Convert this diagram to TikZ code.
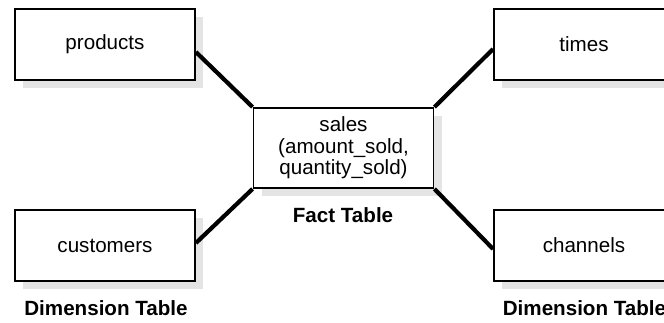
\documentclass[tikz,border=0pt]{standalone}
\usepackage{fontspec}
\setmainfont{Liberation Sans}
\usetikzlibrary{shadows}
\definecolor{shadowgray}{RGB}{228,228,228}
\tikzset{
  tbl/.style={draw=black, line width=1.8pt, fill=white, minimum width=180pt,
    minimum height=71pt, inner sep=0pt, align=center,
    font=\fontsize{20.6}{21.5}\selectfont,
    drop shadow={shadow xshift=8pt, shadow yshift=-8pt, fill=shadowgray, opacity=1, draw=none}},
  fact/.style={tbl, minimum height=80pt},
  conn/.style={line width=4.2pt, draw=black},
  caption/.style={font=\fontsize{20.6}{21.5}\selectfont\bfseries, inner sep=0pt}
}
\begin{document}
\begin{tikzpicture}[x=1pt,y=1pt]
\useasboundingbox (0,0) rectangle (664,322);
\clip (0,0) rectangle (664,322);
\node[tbl]  (products)  at (105,277.5) {products};
\node[tbl]  (times)     at (584,277.5) {times};
\node[tbl]  (customers) at (105,76.5)  {customers};
\node[tbl]  (channels)  at (584,76.5)  {channels};
\node[fact] (sales)     at (343.5,174) {sales\\(amount\_sold,\\quantity\_sold)};
\node[caption] (fact)  at (343,107) {Fact Table};
\node[caption] (dimL)  at (106,14)  {Dimension Table};
\node[caption] (dimR)  at (584.5,14) {Dimension Table};
\draw[conn] ([yshift=-7.5pt]products.east) -- (sales.north west);
\draw[conn] ([yshift=-4.5pt]times.west) -- (sales.north east);
\draw[conn] ([yshift=2.5pt]customers.east) -- (sales.south west);
\draw[conn] ([yshift=-3.5pt]channels.west) -- (sales.south east);
\end{tikzpicture}
\end{document}
